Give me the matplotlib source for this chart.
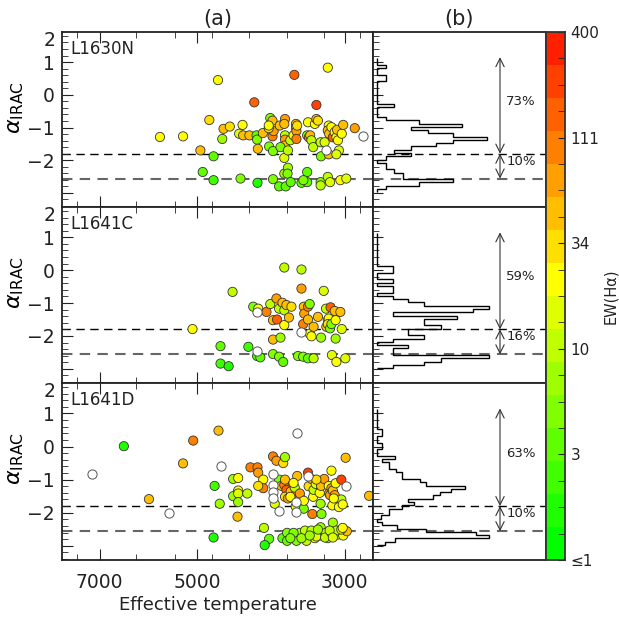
import numpy as np
import matplotlib
matplotlib.use("Agg")
import matplotlib.pyplot as plt
import matplotlib.transforms as mtransforms
from matplotlib.colors import ListedColormap, BoundaryNorm
from matplotlib.ticker import NullFormatter

# === DATA ===
regions = ["L1630N", "L1641C", "L1641D"]

# panel (a): effective temperature [K], alpha_IRAC, EW(Ha) colour band (0 = <=1 ... 15 = 400, -1 = no EW)
teff_1630n = [5681, 5245, 4648, 4790, 4940, 4720, 4900, 4720, 4560, 4462, 4580, 4270, 4320, 4261, 4300,
              4170, 4068, 4060, 4055, 4050, 3980, 3880, 3895, 3850, 3850, 3835, 3843, 3843, 3900, 3755,
              3763, 3687, 3696, 3687, 3687, 3687, 3696, 3696, 3650, 3655, 3678, 3615, 3745, 3620, 3580,
              3570, 3550, 3550, 3544, 3544, 3535, 3483, 3415, 3415, 3415, 3405, 3395, 3380, 3365, 3345,
              3325, 3308, 3308, 3290, 3260, 3215, 3200, 3255, 3260, 3260, 3180, 3170, 3180, 3165, 3140,
              3170, 3180, 3155, 3125, 3105, 3087, 3080, 3070, 3060, 3087, 3045, 2983, 3030, 3015, 2897,
              2816, 4100, 3900, 3460, 3650]
alpha_1630n = [-1.29, -1.27, 0.45, -0.77, -1.70, -1.88, -2.36, -2.61, -1.04, -0.97, -1.35, -0.92, -1.19, -1.24, -2.56,
               -1.24, -1.24, -1.37, -2.69, -1.65, -1.17, -0.71, -1.58, -0.79, -1.27, -1.11, -1.72, -2.58, -1.02, -0.94,
               -2.80, -0.74, -0.89, -1.24, -1.37, -1.55, -1.93, -2.41, -2.23, -2.41, -2.80, -2.67, -1.60, -1.39, -1.24,
               0.61, -0.89, -1.01, -1.11, -1.35, -0.94, -2.69, -2.67, -2.36, -1.24, -0.84, -1.30, -1.24, -1.39, -1.60,
               -0.89, -0.74, -0.31, -0.79, -1.45, -1.45, -1.68, -1.88, -2.67, -2.77, 0.83, -0.94, -1.09, -1.19, -0.99,
               -1.82, -2.51, -2.67, -1.30, -1.14, -1.30, -1.07, -1.39, -1.70, -1.82, -2.61, -2.56, -1.19, -0.92, -1.02,
               -1.27, -0.23, -0.94, -2.61, -1.70]
band_1630n = [8, 8, 8, 9, 10, 3, 3, 2, 10, 9, 5, 8, 7, 10, 4,
              10, 3, 4, 1, 10, 10, 4, 4, 10, 12, 11, 4, 4, 9, 10,
              3, 11, 10, 6, 11, 10, 7, 5, 5, 4, 3, 3, 4, 6, 8,
              13, 10, 10, 11, 12, 9, 3, 3, 3, 4, 8, 12, 10, 6, 6,
              8, 10, 14, 9, 6, 7, -1, 4, 4, 6, 8, 8, 10, 10, 8,
              10, 6, 7, 13, 8, 8, 10, 8, 7, 7, 8, 7, 8, 10, 11,
              -1, 13, 8, 4, 6]

teff_1641c = [5076, 4420, 4608, 4608, 4480, 4185, 4115, 4055, 4055, 4060, 4015, 4045, 3931, 3880, 3843,
              3843, 3843, 3798, 3790, 3763, 3745, 3763, 3720, 3696, 3696, 3710, 3696, 3669, 3637, 3606,
              3525, 3483, 3483, 3483, 3463, 3455, 3450, 3463, 3405, 3385, 3405, 3405, 3385, 3365, 3340,
              3340, 3290, 3255, 3225, 3200, 3196, 3180, 3170, 3150, 3180, 3155, 3140, 3135, 3105, 3095,
              3095, 3087, 3045, 3030, 2993]
alpha_1641c = [-1.79, -0.66, -2.31, -2.84, -2.92, -2.33, -1.11, -1.27, -2.45, -2.61, -2.65, -1.17, -1.27, -1.03, -1.52,
               -2.11, -2.55, -0.86, -1.50, -1.17, -2.05, -2.63, -0.99, -1.22, -1.67, -2.79, 0.08, -1.06, -1.44, -1.11,
               -2.61, 0.02, -0.56, -1.87, -1.64, -1.11, -1.32, -2.63, -1.11, -1.03, -1.50, -2.68, -1.93, -2.01, -1.72,
               -2.68, -1.42, -2.05, -0.63, -1.17, -1.72, -1.52, -1.47, -1.13, -1.64, -1.77, -1.64, -2.58, -1.24, -1.52,
               -2.08, -2.79, -1.27, -1.79, -2.68]
band_1641c = [8, 6, 3, 2, 1, 2, 4, -1, -1, 2, 3, 8, 12, 6, 10,
              10, 4, 11, 13, 6, 5, 4, 10, 6, 8, 3, 6, 10, 10, 9,
              4, 6, 11, -1, 12, 10, 11, 4, 12, 4, 10, 3, 8, 8, 10,
              6, 10, 5, 7, 6, 10, 8, 8, 13, 9, 4, 4, 7, 10, 8,
              5, 8, 10, 7, 7]

teff_1641d = [7177, 6436, 5901, 5502, 5245, 5064, 4640, 4603, 4703, 4720, 4620, 4411, 4335, 4411, 4335,
              4335, 4335, 4345, 4200, 4155, 4055, 4045, 3975, 3975, 3965, 3895, 3955, 3843, 3798, 3843,
              3843, 3843, 3843, 3820, 3763, 3763, 3733, 3710, 3687, 3720, 3696, 3687, 3669, 3687, 3650,
              3615, 3660, 3660, 3553, 3553, 3553, 3553, 3565, 3535, 3535, 3544, 3544, 3503, 3503, 3455,
              3455, 3423, 3423, 3405, 3398, 3405, 3365, 3355, 3345, 3340, 3325, 3325, 3315, 3260, 3250,
              3260, 3255, 3270, 3255, 3220, 3225, 3200, 3180, 3170, 3165, 3155, 3140, 3140, 3130, 3125,
              3125, 3105, 3095, 3070, 3060, 3035, 3035, 3020, 3015, 2983, 2990, 2978, 2757, 3503, 3440,
              3365, 3308, 3210, 3140, 3087, 3035, 3580, 3483, 3385, 3290, 3160, 3125, 3620, 4045, 3580,
              3620, 3308, 3115, 3020]
alpha_1641d = [-0.82, 0.01, -1.59, -2.02, -0.51, 0.18, 0.48, -0.60, -1.19, -2.75, -1.73, -0.98, -0.95, -1.50, -1.33,
               -1.42, -1.68, -2.12, -1.42, -0.63, -0.63, -0.79, -1.00, -1.26, -2.46, -2.79, -2.98, -0.30, -0.43, -0.84,
               -1.16, -1.36, -1.55, -1.73, -1.00, -1.94, -1.19, -0.50, -0.32, -2.77, -1.16, -1.00, -1.31, -1.52, -1.57,
               -1.36, -2.61, -2.85, -1.45, -1.68, -1.81, -1.97, -1.24, 0.41, -0.89, -2.68, -2.85, -1.52, -1.42, -1.88,
               -1.64, -2.70, -2.85, -0.79, -1.20, -0.89, -0.98, -2.04, -1.52, -1.31, -2.61, -2.77, -1.13, -1.73, -2.04,
               -2.44, -2.69, -1.40, -1.19, -0.98, -2.67, -2.61, -2.77, -1.19, -1.42, -1.47, -0.73, -1.26, -1.78, -1.33,
               -2.30, -1.47, -1.11, -2.66, -1.83, -1.00, -1.60, -1.75, -2.69, -1.19, -0.34, -2.56, -1.49, -2.61, -2.54,
               -2.54, -2.72, -2.75, -2.61, -2.54, -2.51, -2.61, -2.77, -2.69, -2.51, -2.54, -2.75, -2.77, -1.19, -1.10,
               -1.52, -1.00, -1.57, -2.46]
band_1641d = [-1, 1, 10, -1, 10, 12, 10, -1, 2, 1, 5, 5, 8, 5, 8,
              7, 5, 10, 6, 12, 12, 11, 8, 12, 6, 3, 1, 12, 11, -1,
              -1, -1, -1, 7, 4, -1, 10, 9, 5, 3, 12, 10, 13, 9, 11,
              10, 4, 3, 12, -1, 7, -1, 6, -1, 10, 4, 4, 10, 11, 4,
              8, 6, 6, 14, 9, -1, 10, 12, 8, 6, 6, 8, 7, 5, 4,
              5, 8, 8, 10, 11, 6, 7, 7, 8, 10, 11, 8, 11, 8, 10,
              5, 11, 8, 7, 8, 14, 6, 8, 8, -1, 10, 10, 10, 5, 6,
              6, 7, 6, 7, 6, 7, 4, 5, 5, 5, 6, 7, 4, 9, 8,
              8, 9, 8, 8]

# panel (b): alpha_IRAC histograms, 0.1-wide bins from -2.98
hist_edges = np.round(np.arange(-2.98, 1.13, 0.1), 2)
hist_1630n = [0, 1, 5, 9, 3, 3, 2, 1, 1, 0, 1, 4, 2, 4, 7, 9, 13, 9, 6, 4, 10, 5, 1, 0, 0, 0, 2,
              0, 0, 0, 0, 0, 0, 0, 1, 1, 0, 0, 1, 0, 0]
hist_1641c = [1.9, 5.6, 7.6, 13.3, 1.9, 1.9, 3.6, 0, 1.9, 5.6, 3.6, 3.6, 7.6, 5.6, 5.6, 9.4, 1.9, 11.4,
              13.3, 5.6, 3.6, 1.9, 0, 1.9, 1.9, 0, 1.9, 0, 0, 1.9, 1.9, 0, 0, 0, 0, 0, 0, 0, 0, 0, 0]
hist_1641d = [0.9, 2.1, 13.3, 11.7, 5.8, 2.3, 0.6, 0, 0.5, 1.4, 1.4, 2.9, 4.4, 3.6, 6.6, 7.4, 8.8, 10.4,
              5.8, 5.1, 2.9, 2.9, 2.2, 1.4, 1.4, 0.6, 2.1, 0, 0, 0.6, 0.6, 0, 0, 0.6, 0.6, 0, 0, 0, 0, 0, 0]

pct_thick = ["73%", "59%", "63%"]
pct_anemic = ["10%", "16%", "10%"]
alpha_thick = -1.8
alpha_anemic = -2.56

teff_ticks = [7000, 5000, 3000]
teff_minor = [7566, 6173, 5395, 4747, 4179, 3666, 3225, 2849]
ew_labels = ["\u22641", "3", "10", "34", "111", "400"]

# === STYLE ===
W, H = 619, 618
n_band = 16
band_colors = [(min(1.0, 2 * (i / n_band)), min(1.0, 2 * (1 - i / n_band)), 0.0) for i in range(n_band)]
band_colors[8] = (1.0, 1.0, 0.0)
cmap = ListedColormap(band_colors)
norm = BoundaryNorm(np.arange(-0.5, n_band), n_band)
edge_col = "#333333"


def box(x0, y0, x1, y1):
    return [x0 / W, 1 - y1 / H, (x1 - x0) / W, (y1 - y0) / H]


fig = plt.figure(figsize=(W / 100, H / 100), dpi=100)
rows = [(32, 207), (207, 383), (383, 560)]
teffs = [teff_1630n, teff_1641c, teff_1641d]
alphas = [alpha_1630n, alpha_1641c, alpha_1641d]
bands = [band_1630n, band_1641c, band_1641d]
hists = [hist_1630n, hist_1641c, hist_1641d]
ylim = (-3.43, 1.92)

for i, (top, bot) in enumerate(rows):
    axa = fig.add_axes(box(62, top, 373, bot))
    axb = fig.add_axes(box(373, top, 546, bot))

    t = np.array(teffs[i], float)
    a = np.array(alphas[i], float)
    b = np.array(bands[i])
    m = b >= 0
    axa.scatter(t[m], a[m], c=b[m], cmap=cmap, norm=norm, s=44,
                edgecolors=edge_col, linewidths=0.6, zorder=3)
    axa.scatter(t[~m], a[~m], facecolors="white", edgecolors="#555555",
                s=44, linewidths=0.7, zorder=3)

    for ax in (axa, axb):
        ax.axhline(alpha_thick, color="black", lw=1.0, dashes=(6, 4), zorder=1)
        ax.axhline(alpha_anemic, color="#666666", lw=1.5, dashes=(5, 3.5), zorder=1)
        ax.set_ylim(*ylim)
        for s in ax.spines.values():
            s.set_linewidth(1.3)
            s.set_color("#222222")

    axa.set_xscale("log")
    axa.set_xlim(7970, 2720)
    axa.set_xticks(teff_ticks)
    axa.set_xticks(teff_minor, minor=True)
    axa.xaxis.set_minor_formatter(NullFormatter())
    axa.set_xticklabels([str(v) for v in teff_ticks])
    axa.set_yticks([-3, -2, -1, 0, 1])
    axa.set_yticklabels(["", "\u22122", "\u22121", "0", "1"])
    axa.set_yticks(np.arange(-3.4, 1.95, 0.2), minor=True)
    axa.tick_params(axis="both", which="both", direction="in", top=True, right=False,
                    labelsize=13.5, colors="#222222")
    axa.tick_params(axis="x", which="major", length=8, pad=9, labelbottom=(i == 2))
    axa.tick_params(axis="x", which="minor", length=4)
    axa.tick_params(axis="y", which="major", length=8, pad=5)
    axa.tick_params(axis="y", which="minor", length=4)
    trans = mtransforms.blended_transform_factory(axa.transAxes, axa.transData)
    axa.text(-0.022, 1.65, "2", transform=trans, ha="right", va="center", fontsize=13.5, color="#222222")
    axa.text(0.026, 0.955, regions[i], transform=axa.transAxes, ha="left", va="top",
             fontsize=12, color="#222222")
    axa.set_ylabel(r"$\alpha_{\mathrm{IRAC}}$", fontsize=16)
    axa.yaxis.set_label_coords(-0.115, 0.57)

    axb.stairs(hists[i], hist_edges, orientation="horizontal", baseline=0,
               color="black", lw=1.0, zorder=2)
    axb.set_xlim(-0.5, 20)
    axb.set_xticks([])
    axb.set_yticks([-3, -2, -1, 0, 1])
    axb.set_yticks(np.arange(-3.4, 1.95, 0.2), minor=True)
    axb.tick_params(axis="y", which="both", direction="in", left=True, right=False,
                    labelleft=False, colors="#222222")
    axb.tick_params(axis="y", which="major", length=7)
    axb.tick_params(axis="y", which="minor", length=4)

    xa = 14.55
    arrow = dict(arrowstyle="<->,head_length=0.6,head_width=0.3", color="#333333",
                 lw=0.8, shrinkA=0, shrinkB=0)
    axb.annotate("", xy=(xa, alpha_thick), xytext=(xa, 1.15), arrowprops=arrow)
    axb.annotate("", xy=(xa, alpha_anemic), xytext=(xa, alpha_thick), arrowprops=arrow)
    axb.text(15.3, -0.2, pct_thick[i], ha="left", va="center", fontsize=9.5, color="#222222")
    axb.text(15.3, -2.03, pct_anemic[i], ha="left", va="center", fontsize=9.5, color="#222222")

    if i == 0:
        axa.set_title("(a)", fontsize=15, pad=5, color="#222222")
        axb.set_title("(b)", fontsize=15, pad=5, color="#222222")
    if i == 2:
        axa.set_xlabel("Effective temperature", fontsize=13, labelpad=3, color="#222222")

# colour bar for EW(Ha)
cax = fig.add_axes(box(546, 32, 565, 560))
cax.pcolormesh([0, 1], np.linspace(0, 1, n_band + 1), np.arange(n_band)[:, None],
               cmap=cmap, norm=norm)
cax.set_xlim(0, 1)
cax.set_ylim(0, 1)
cax.set_xticks([])
cax.yaxis.tick_right()
cax.set_yticks(np.linspace(0, 1, len(ew_labels)))
cax.set_yticklabels(ew_labels)
cax.set_yticks(np.arange(0, 1.001, 0.05), minor=True)
cax.tick_params(axis="y", which="both", direction="in", length=5, left=False, right=True,
                labelright=True, labelleft=False, pad=4, labelsize=11, colors="#222222")
cax.yaxis.set_label_position("right")
cax.set_ylabel("EW(H\u03b1)", fontsize=10.5, labelpad=3, color="#222222")
for s in cax.spines.values():
    s.set_linewidth(1.3)
    s.set_color("#333333")

fig.savefig("out.png", dpi=100)
